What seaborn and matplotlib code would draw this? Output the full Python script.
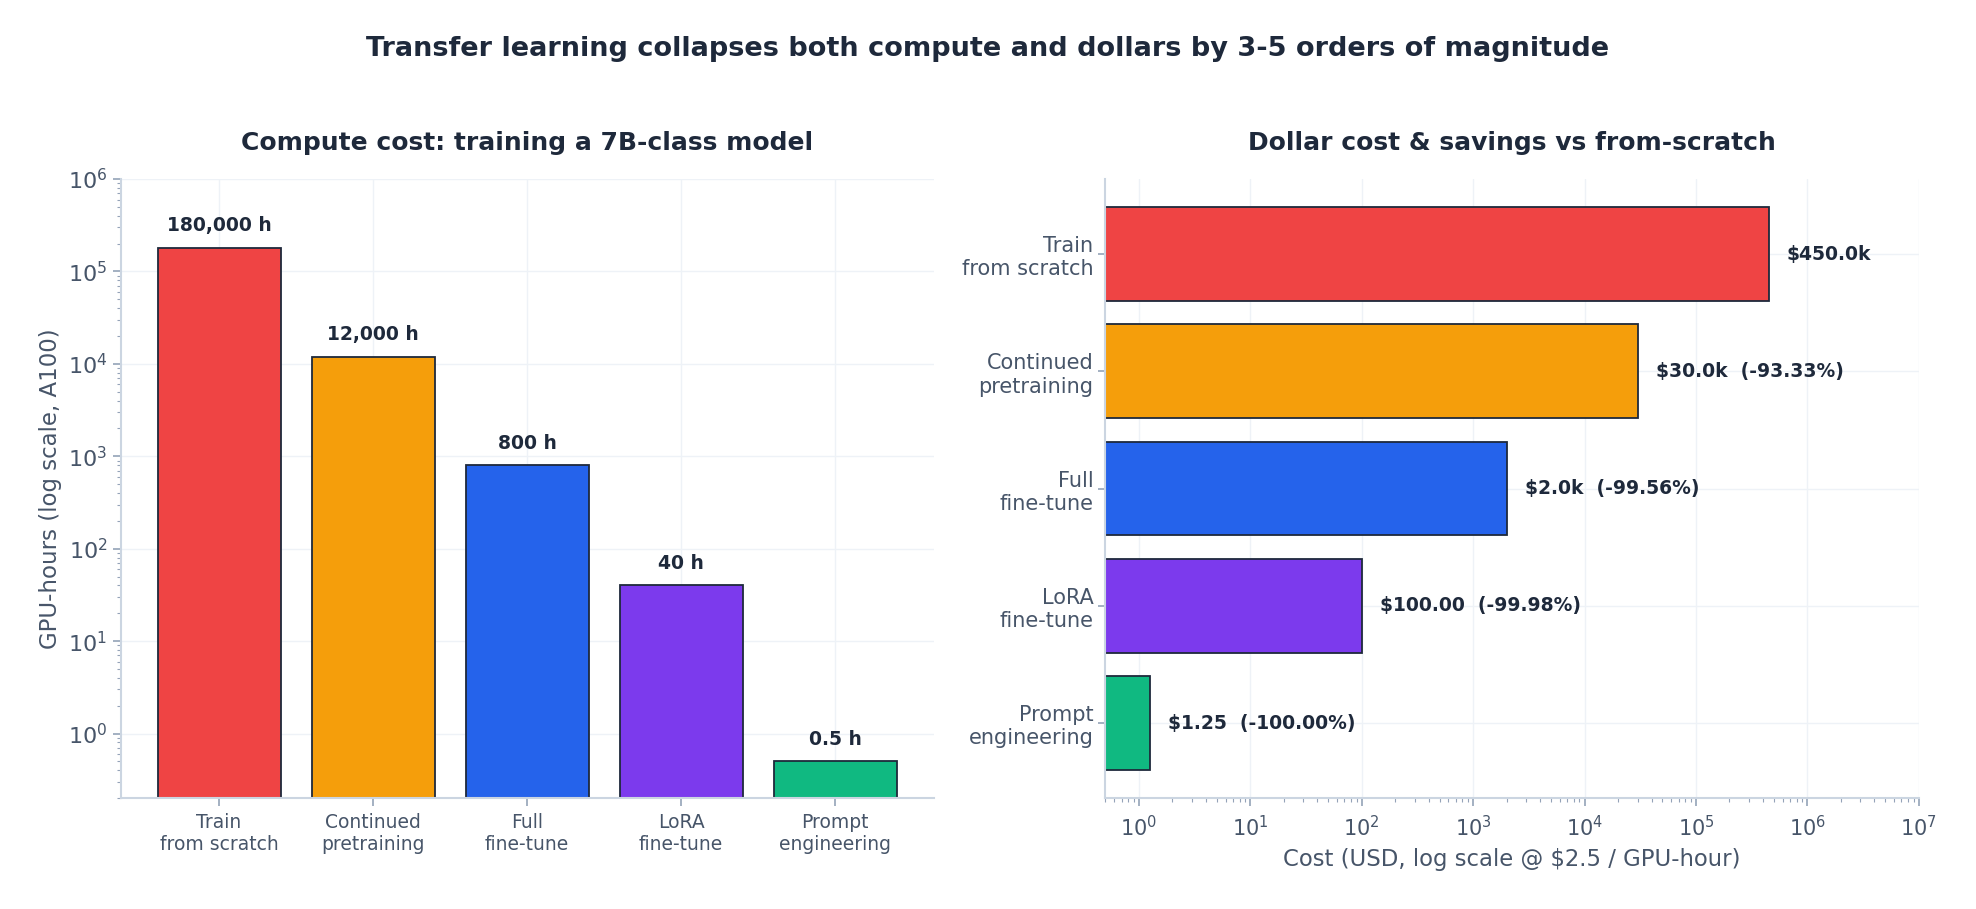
import numpy as np
import pandas as pd
import seaborn as sns
import matplotlib.pyplot as plt

# data
methods = ["Train\nfrom scratch", "Continued\npretraining", "Full\nfine-tune",
           "LoRA\nfine-tune", "Prompt\nengineering"]
gpu_hours = [180000, 12000, 800, 40, 0.5]
usd_per_gpu_hour = 2.5
colors = ["#ef4444", "#f59e0b", "#2563eb", "#7c3aed", "#10b981"]

DARK = "#1e293b"
GREY = "#475569"
SPINE = "#cbd5e1"
GRID = "#eef2f7"


def hours_label(v):
    if v >= 1:
        return f"{v:,.0f} h"
    return f"{v:g} h"


def cost_label(v, base):
    txt = f"${v/1000:.1f}k" if v >= 1000 else f"${v:.2f}"
    if v == base:
        return txt
    pct = (v - base) / base * 100
    return f"{txt}  ({pct:.2f}%)"


def style_axis(ax):
    for s in ["top", "right"]:
        ax.spines[s].set_visible(False)
    for s in ["left", "bottom"]:
        ax.spines[s].set_color(SPINE)
        ax.spines[s].set_linewidth(1.5)
    ax.grid(True, color=GRID, linewidth=1)
    ax.set_axisbelow(True)
    ax.tick_params(which="both", colors="#94a3b8", labelcolor=GREY)
    ax.tick_params(which="major", length=6, width=1.2)
    ax.tick_params(which="minor", length=3, width=0.8)


df = pd.DataFrame({"method": methods, "hours": gpu_hours})
df["cost"] = df["hours"] * usd_per_gpu_hour

sns.set_theme(style="whitegrid")
plt.rcParams["font.family"] = ["DejaVu Sans"]

fig, (ax1, ax2) = plt.subplots(1, 2, figsize=(19.76, 9.09), dpi=100)
fig.subplots_adjust(left=0.061, right=0.971, top=0.803, bottom=0.122, wspace=0.211)

# left: GPU-hours
sns.barplot(data=df, x="method", y="hours", hue="method", palette=colors,
            legend=False, ax=ax1, width=0.8, edgecolor=DARK, linewidth=1.3,
            saturation=1)
ax1.set_yscale("log")
ax1.set_yticks([10.0 ** k for k in range(0, 7)])
ax1.set_ylim(0.2, 1e6)
ax1.set_xlim(-0.64, 4.64)
style_axis(ax1)
ax1.tick_params(axis="y", which="both", left=True)
ax1.tick_params(axis="x", which="major", bottom=True, labelsize=13.5, pad=5)
ax1.tick_params(axis="y", which="major", labelsize=16)
ax1.set_xlabel("")
ax1.set_ylabel("GPU-hours (log scale, A100)", fontsize=16.5, color=GREY)
ax1.set_title("Compute cost: training a 7B-class model", fontsize=18,
              fontweight="bold", color=DARK, pad=21)
for i, v in enumerate(gpu_hours):
    ax1.annotate(hours_label(v), (i, v), xytext=(0, 9), textcoords="offset points",
                 ha="center", va="bottom", fontsize=13.5, fontweight="bold", color=DARK)

# right: dollars
base = df["cost"].iloc[0]
sns.barplot(data=df, x="cost", y="method", hue="method", palette=colors,
            legend=False, ax=ax2, orient="h", width=0.8, edgecolor=DARK,
            linewidth=1.3, saturation=1)
ax2.set_xscale("log")
ax2.set_xticks([10.0 ** k for k in range(0, 8)])
ax2.set_xlim(0.5, 1e7)
ax2.set_ylim(4.64, -0.64)
style_axis(ax2)
ax2.tick_params(axis="x", which="both", bottom=True, labelsize=15)
ax2.tick_params(axis="x", which="major", pad=6)
ax2.tick_params(axis="y", which="major", left=True, length=5, labelsize=15)
ax2.set_ylabel("")
ax2.set_xlabel("Cost (USD, log scale @ $2.5 / GPU-hour)", fontsize=16.4, color=GREY,
               labelpad=6)
ax2.set_title("Dollar cost & savings vs from-scratch", fontsize=18,
              fontweight="bold", color=DARK, pad=21)
for i, v in enumerate(df["cost"]):
    ax2.annotate(cost_label(v, base), (v, i), xytext=(13, 0), textcoords="offset points",
                 ha="left", va="center", fontsize=13.5, fontweight="bold", color=DARK)

fig.suptitle("Transfer learning collapses both compute and dollars by 3-5 orders of magnitude",
             fontsize=19.5, fontweight="bold", color=DARK, y=0.946, va="center")

fig.savefig("out.png", dpi=100)
